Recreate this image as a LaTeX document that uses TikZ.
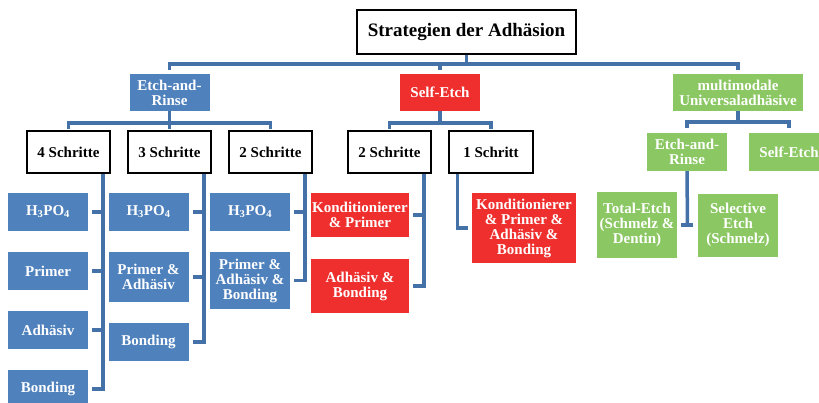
\documentclass[tikz,border=0pt]{standalone}
\usepackage{fontspec}
\setmainfont{Liberation Serif}
\usetikzlibrary{positioning,calc}
\definecolor{rinse}{RGB}{79,129,189}
\definecolor{selfred}{RGB}{238,47,46}
\definecolor{multi}{RGB}{139,199,99}
\definecolor{linkblue}{RGB}{68,114,168}
\tikzstyle{headbox} = [rectangle, draw=black, line width=1.6pt, fill=white, minimum width=219pt, minimum height=44pt, inner sep=0pt, font=\fontsize{19}{19}\selectfont\bfseries]
\tikzstyle{stepsbox} = [rectangle, draw=black, line width=1.5pt, fill=white, minimum width=83pt, minimum height=42pt, inner sep=0pt, font=\fontsize{15}{15}\selectfont\bfseries]
\tikzstyle{rinsebox} = [rectangle, fill=rinse, text=white, align=center, minimum width=80pt, minimum height=38pt, inner sep=0pt, font=\fontsize{15}{15}\selectfont\bfseries]
\tikzstyle{selfbox} = [rinsebox, fill=selfred]
\tikzstyle{multibox} = [rinsebox, fill=multi]
\tikzstyle{branch} = [draw=linkblue, line width=3.5pt]

\begin{document}
\begin{tikzpicture}[x=1pt, y=-1pt]
\useasboundingbox (0,0) rectangle (819,402);

\node (root) [headbox] at (466.5,32) {Strategien der Adhäsion};

\node (er) [rinsebox, minimum height=37pt] at (169.5,92.5) {Etch-and-\\Rinse};
\node (se) [selfbox, minimum height=37pt] at (440,92.5) {Self-Etch};
\node (mu) [multibox, minimum width=130pt, minimum height=37pt] at (738,92.5) {multimodale\\Universaladhäsive};

\node (er4) [stepsbox] at (68.5,152) {4 Schritte};
\node (er3) [stepsbox, right of=er4, node distance=101pt] {3 Schritte};
\node (er2) [stepsbox, right of=er3, node distance=101pt] {2 Schritte};
\node (se2) [stepsbox] at (389.5,152) {2 Schritte};
\node (se1) [stepsbox, minimum width=84pt] at (491,152) {1 Schritt};
\node (mer) [multibox] at (687,152) {Etch-and-\\Rinse};
\node (mse) [multibox] at (789,152) {Self-Etch};

\node (a1) [rinsebox] at (48,212) {H\textsubscript{3}PO\textsubscript{4}};
\node (a2) [rinsebox, below of=a1, node distance=59pt] {Primer};
\node (a3) [rinsebox, below of=a2, node distance=59pt] {Adhäsiv};
\node (a4) [rinsebox, below of=a3, node distance=59pt] {Bonding};

\node (b1) [rinsebox] at (148.5,212) {H\textsubscript{3}PO\textsubscript{4}};
\node (b2) [rinsebox, minimum height=50pt] at (148.5,277) {Primer \&\\Adhäsiv};
\node (b3) [rinsebox] at (148.5,342) {Bonding};

\node (c1) [rinsebox] at (250,212) {H\textsubscript{3}PO\textsubscript{4}};
\node (c2) [rinsebox, minimum height=57pt] at (250,280.5) {Primer \&\\Adhäsiv \&\\Bonding};

\node (d1) [selfbox, minimum width=98pt, minimum height=44pt] at (360,215) {Konditionierer\\\& Primer};
\node (d2) [selfbox, minimum width=98pt, minimum height=54pt] at (360,286) {Adhäsiv \&\\Bonding};

\node (e1) [selfbox, minimum width=104pt, minimum height=70pt] at (524,228) {Konditionierer\\\& Primer \&\\Adhäsiv \&\\Bonding};

\node (f1) [multibox, minimum height=66pt] at (637,225) {Total-Etch\\(Schmelz \&\\Dentin)};
\node (f2) [multibox, minimum height=63pt] at (738,225) {Selective\\Etch\\(Schmelz)};

%lines
\draw [branch, shorten >=4pt] (root.south) -- ++(0,9) -| (er.north);
\draw [branch, shorten >=4pt] (root.south) -- ++(0,9) -| (se.north);
\draw [branch, shorten >=4pt] (root.south) -- ++(0,9) -| (mu.north);

\foreach \n in {er4,er3,er2}
  \draw [branch, shorten >=1pt] (er.south) -- ++(0,12) -| (\n.north);
\foreach \n in {se2,se1}
  \draw [branch, shorten >=1pt] (se.south) -- ++(0,12) -| (\n.north);
\foreach \n in {mer,mse}
  \draw [branch, shorten >=5pt] (mu.south) -- ++(0,11) -| (\n.north);

\foreach \n in {a1,a2,a3,a4}
  \draw [branch, shorten >=4pt] ($(er4.south east)+(-8,0)$) |- (\n.east);
\foreach \n in {b1,b2,b3}
  \draw [branch, shorten >=4pt] ($(er3.south east)+(-8,0)$) |- (\n.east);
\foreach \n in {c1,c2}
  \draw [branch, shorten >=4pt] ($(er2.south east)+(-8,0)$) |- (\n.east);
\foreach \n in {d1,d2}
  \draw [branch, shorten >=4pt] ($(se2.south east)+(-8,0)$) |- (\n.east);
\draw [branch, shorten >=4pt] ($(se1.south west)+(9,0)$) |- (e1.west);

\draw [branch] (mer.south) -- ($(f1.east)!0.5!(f2.west)$);
\draw [branch, shorten <=4pt, shorten >=5pt] (f1.east) -- (f2.west);

\end{tikzpicture}
\end{document}
